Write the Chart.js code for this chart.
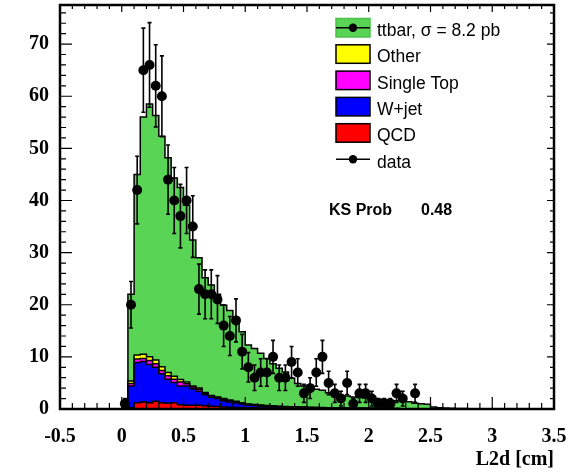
<!DOCTYPE html>
<html>
<head>
<meta charset="utf-8">
<script src="https://cdn.jsdelivr.net/npm/chart.js@4.4.1/dist/chart.umd.min.js"></script>
<style>
  html, body { margin: 0; padding: 0; background: #fff; }
  #wrap { width: 572px; height: 475px; }
</style>
</head>
<body>
<div id="wrap"><canvas id="myChart" width="572" height="475"></canvas></div>
<script>
// histogram binning: 80 bins of 0.05 between -0.5 and 3.5,
// the arrays below start at the bin 0.00-0.05 (everything else is empty)
const xMin = -0.5;
const xMax = 3.5;
const binWidth = 0.05;
const firstEdge = 0.0;

const qcd = [0, 0.3, 1.2, 1.35, 1.2, 1.5, 1.2, 1.1, 1.2, 0.8,
  0.7, 0.7, 0.7, 0.6, 0.55, 0.5, 0.4, 0.35, 0.3, 0.3,
  0.25, 0.25, 0.2, 0.2, 0.2, 0.15, 0.15, 0.15, 0.12, 0.12,
  0.1, 0.1, 0.1, 0.08, 0.08, 0.07, 0.07, 0.06, 0.06, 0.05,
  0.05, 0.05, 0.04, 0.04, 0.04, 0.03, 0.03, 0.03, 0.03, 0.02,
  0.02, 0.02, 0.02, 0.02, 0.02, 0.02, 0.02, 0.02];
const wjet = [0, 4.1, 7.7, 7.75, 7.35, 6.5, 5.55, 4.6, 3.9, 3.6,
  3.7, 3.2, 2.7, 2.15, 1.7, 1.5, 1.2, 1.0, 0.85, 0.65,
  0.5, 0.4, 0.35, 0.3, 0.25, 0.25, 0.2, 0.2, 0.18, 0.15,
  0.15, 0.12, 0.12, 0.1, 0.1, 0.08, 0.08, 0.07, 0.06, 0.06,
  0.05, 0.05, 0.04, 0.04, 0.03, 0.03, 0.03, 0.02, 0.02, 0.02,
  0.01, 0.01, 0.01];
const singleTop = [0, 0.5, 0.7, 0.6, 0.75, 0.7, 0.65, 0.7, 0.6, 0.8,
  0.45, 0.3, 0.4, 0.25, 0.25, 0.2, 0.25, 0.25, 0.2, 0.15,
  0.13, 0.13, 0.13, 0.1, 0.1, 0.08, 0.08, 0.07, 0.06, 0.06,
  0.05, 0.05, 0.04, 0.04, 0.03, 0.03, 0.03, 0.02, 0.02, 0.02,
  0.02, 0.01, 0.01, 0.01, 0.01, 0.01];
const other = [0, 0.45, 0.75, 0.8, 0.7, 0.7, 0.7, 0.6, 0.6, 0.45,
  0.35, 0.2, 0.25, 0.15, 0.1, 0.1, 0.15, 0.15, 0.15, 0.1,
  0.07, 0.07, 0.07, 0.05, 0.05, 0.04, 0.04, 0.03, 0.03, 0.03,
  0.02, 0.02, 0.02, 0.02, 0.01, 0.01, 0.01, 0.01, 0.01, 0.01,
  0.01, 0.01];
const ttbar = [0, 16.65, 34.65, 45.5, 48.5, 46.9, 44.2, 41.2, 38.0, 36.85,
  33.9, 28.0, 24.95, 22.05, 21.2, 19.7, 17.9, 17.15, 15.9, 13.6,
  11.35, 10.75, 9.95, 9.05, 8.1, 7.28, 6.63, 5.45, 4.51, 4.04,
  3.58, 3.51, 3.32, 2.86, 2.48, 2.41, 2.31, 2.14, 2.05, 1.96,
  1.77, 1.78, 1.71, 1.61, 1.52, 1.43, 1.34, 1.05, 0.95, 0.86,
  0.37, 0.22, 0.17, 0.13, 0.08, 0.08, 0.03, 0.03];
// observed events, 0 = no marker drawn
const dataCounts = [1, 20, 42, 65, 66, 62, 60, 44, 40, 37,
  40, 35, 23, 22, 22, 21, 16, 14, 17, 11,
  8, 6, 7, 7, 10, 6, 6, 9, 7, 3,
  4, 7, 10, 5, 3, 2, 5, 1, 3, 3,
  2, 1, 1, 1, 3, 2, 0, 3];

const yTickValues = [0, 10, 20, 30, 40, 50, 60, 70];

const serif = '"Liberation Serif", "Times New Roman", serif';
const sans = '"Liberation Sans", Arial, Helvetica, sans-serif';

function histPoints(values) {
  const pts = [];
  const nBins = Math.round((xMax - xMin) / binWidth);
  for (let i = 0; i < nBins; i++) {
    const lo = +(xMin + i * binWidth).toFixed(3);
    const k = Math.round((lo - firstEdge) / binWidth);
    const v = k >= 0 && k < values.length ? values[k] : 0;
    pts.push({ x: lo, y: v });
  }
  pts.push({ x: xMax, y: pts[pts.length - 1].y });
  return pts;
}

function dataPoints(counts) {
  const pts = [];
  counts.forEach((n, k) => {
    if (n > 0) pts.push({ x: +(firstEdge + (k + 0.5) * binWidth).toFixed(4), y: n });
  });
  return pts;
}

const mcStyle = (color, fill) => ({
  type: "line",
  stepped: true,
  pointRadius: 0,
  borderColor: "#000",
  borderWidth: 1.5,
  backgroundColor: color,
  fill: fill,
  stack: "mc",
  order: 1,
});

// no automatic padding around the plot frame
const noPad = (s) => {
  s.paddingLeft = 0;
  s.paddingRight = 0;
  s.paddingTop = 0;
  s.paddingBottom = 0;
};

const errorBars = {
  id: "errorBars",
  afterDatasetsDraw(chart) {
    const idx = chart.data.datasets.findIndex((d) => d.label === "data");
    const meta = chart.getDatasetMeta(idx);
    const ys = chart.scales.y;
    const ctx = chart.ctx;
    ctx.save();
    ctx.strokeStyle = "#000";
    ctx.lineWidth = 1.6;
    meta.data.forEach((pt, i) => {
      const n = chart.data.datasets[idx].data[i].y;
      const e = Math.sqrt(n);
      const top = ys.getPixelForValue(n + e);
      const bot = ys.getPixelForValue(Math.max(n - e, 0));
      ctx.beginPath();
      ctx.moveTo(pt.x, top);
      ctx.lineTo(pt.x, bot);
      ctx.moveTo(pt.x - 2, top);
      ctx.lineTo(pt.x + 2, top);
      ctx.moveTo(pt.x - 2, bot);
      ctx.lineTo(pt.x + 2, bot);
      ctx.stroke();
    });
    ctx.restore();
  },
};

// ROOT-like frame with inward ticks on all four sides
const frame = {
  id: "frame",
  afterDraw(chart) {
    const { ctx, chartArea: a, scales } = chart;
    ctx.save();
    ctx.strokeStyle = "#000";
    ctx.lineWidth = 1.2;
    ctx.beginPath();
    for (let k = 0; k <= 40; k++) {
      const v = xMin + k * 0.1;
      const px = scales.x.getPixelForValue(v);
      const major = k % 5 === 0;
      ctx.moveTo(px, a.bottom);
      ctx.lineTo(px, a.bottom - (major ? 12 : 6));
      ctx.moveTo(px, a.top);
      ctx.lineTo(px, a.top + (major ? 7 : 4));
    }
    for (let v = 0; v <= 76; v += 2) {
      const py = scales.y.getPixelForValue(v);
      const major = v % 10 === 0;
      ctx.moveTo(a.left, py);
      ctx.lineTo(a.left + (major ? 12 : 6), py);
      ctx.moveTo(a.right, py);
      ctx.lineTo(a.right - (major ? 7 : 4), py);
    }
    ctx.stroke();
    ctx.lineWidth = 2.5;
    ctx.strokeRect(a.left, a.top, a.right - a.left, a.bottom - a.top);
    ctx.restore();
  },
};

const legendBox = {
  id: "legendBox",
  afterDraw(chart) {
    const ctx = chart.ctx;
    const rows = [
      { text: "ttbar, \u03c3 = 8.2 pb", fill: "#59d454", edge: "#4cbf4c", marker: true },
      { text: "Other", fill: "#ffff00", edge: "#000" },
      { text: "Single Top", fill: "#ff00ff", edge: "#000" },
      { text: "W+jet", fill: "#0000ff", edge: "#000" },
      { text: "QCD", fill: "#ff0000", edge: "#000" },
      { text: "data", marker: true },
    ];
    const x0 = 336, w = 34, h = 18.5, step = 26.3;
    ctx.save();
    ctx.font = "17.5px " + sans;
    ctx.textBaseline = "alphabetic";
    rows.forEach((r, i) => {
      const top = 18.5 + i * step;
      const mid = top + h / 2;
      if (r.fill) {
        ctx.fillStyle = r.fill;
        ctx.fillRect(x0, top, w, h);
        ctx.strokeStyle = r.edge;
        ctx.lineWidth = 1.5;
        ctx.strokeRect(x0, top, w, h);
      }
      if (r.marker) {
        ctx.strokeStyle = "#000";
        ctx.lineWidth = 1.5;
        ctx.beginPath();
        ctx.moveTo(x0, mid);
        ctx.lineTo(x0 + w, mid);
        ctx.stroke();
        ctx.fillStyle = "#000";
        ctx.beginPath();
        ctx.arc(x0 + w / 2, mid, 4.2, 0, Math.PI * 2);
        ctx.fill();
      }
      ctx.fillStyle = "#000";
      ctx.fillText(r.text, 377, top + 17.5);
    });
    ctx.font = "bold 16px " + sans;
    ctx.fillText("KS Prob", 329, 215);
    ctx.fillText("0.48", 421, 215);
    ctx.restore();
  },
};

const ctx = document.getElementById("myChart").getContext("2d");
new Chart(ctx, {
  type: "line",
  data: {
    datasets: [
      { label: "QCD", data: histPoints(qcd), ...mcStyle("#ff0000", "origin") },
      { label: "W+jet", data: histPoints(wjet), ...mcStyle("#0000ff", "-1") },
      { label: "Single Top", data: histPoints(singleTop), ...mcStyle("#ff00ff", "-1") },
      { label: "Other", data: histPoints(other), ...mcStyle("#ffff00", "-1") },
      { label: "ttbar", data: histPoints(ttbar), ...mcStyle("#59d454", "-1") },
      {
        label: "data",
        type: "line",
        data: dataPoints(dataCounts),
        showLine: false,
        pointRadius: 5,
        pointBackgroundColor: "#000",
        pointBorderColor: "#000",
        pointBorderWidth: 0,
        stack: "data",
        order: 0,
      },
    ],
  },
  options: {
    responsive: false,
    animation: false,
    layout: { padding: { left: 0, right: 18, top: 5, bottom: 0 } },
    plugins: {
      legend: { display: false },
      tooltip: { enabled: false },
    },
    scales: {
      x: {
        type: "linear",
        min: xMin,
        max: xMax,
        grid: { display: false, drawTicks: false },
        border: { display: false },
        ticks: {
          stepSize: 0.5,
          color: "#000",
          padding: 16,
          maxRotation: 0,
          font: { family: serif, size: 20, weight: "bold" },
          callback: (v) => String(Math.round(v * 10) / 10),
        },
        title: {
          display: true,
          text: "L2d [cm]",
          align: "end",
          color: "#000",
          padding: { top: 0, bottom: 3 },
          font: { family: serif, size: 20, weight: "bold" },
        },
        afterFit: (s) => { s.height = 66; noPad(s); },
      },
      y: {
        type: "linear",
        stacked: true,
        min: 0,
        max: 77.5,
        grid: { display: false, drawTicks: false },
        border: { display: false },
        afterBuildTicks: (s) => { s.ticks = yTickValues.map((v) => ({ value: v })); },
        ticks: {
          color: "#000",
          padding: 11,
          font: { family: serif, size: 20, weight: "bold" },
        },
        afterFit: (s) => { s.width = 60; noPad(s); },
      },
    },
  },
  plugins: [errorBars, frame, legendBox],
});
</script>
</body>
</html>
